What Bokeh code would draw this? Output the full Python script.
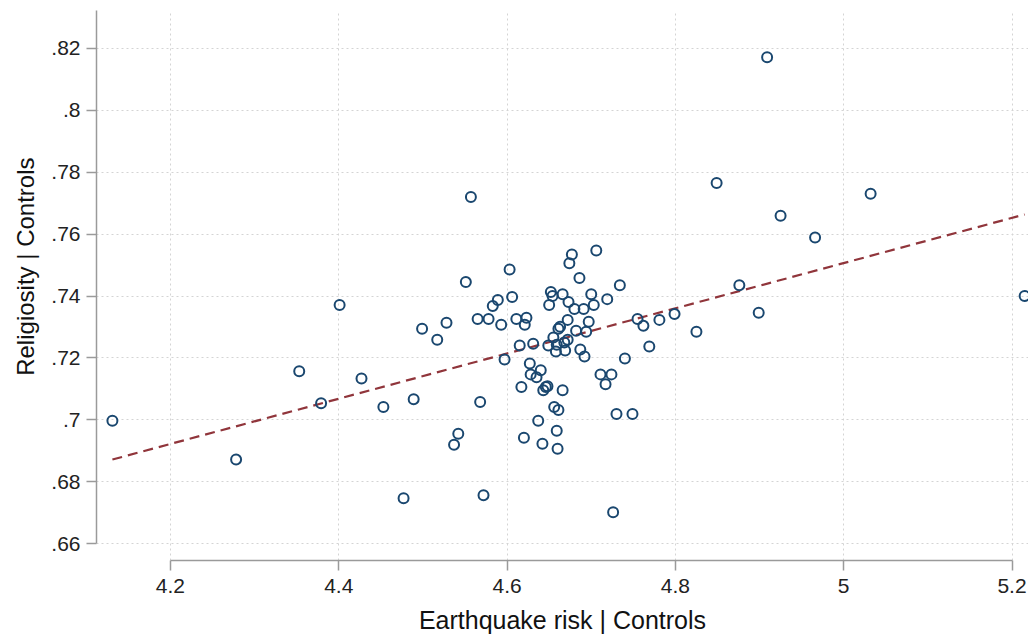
from bokeh.plotting import figure
from bokeh.models import Range1d, FixedTicker, CustomJSTickFormatter, ColumnDataSource, Title
from bokeh.embed import file_html
from bokeh.resources import INLINE

# ---- data ----
earthquake_risk = [
    4.131, 4.278, 4.353, 4.379, 4.401, 4.427, 4.453, 4.477, 4.489, 4.499,
    4.517, 4.528, 4.537, 4.542, 4.551, 4.557, 4.565, 4.568, 4.572, 4.578,
    4.583, 4.589, 4.593, 4.597, 4.603, 4.606, 4.611, 4.615, 4.617, 4.620,
    4.621, 4.623, 4.627, 4.628, 4.631, 4.635, 4.637, 4.640, 4.642, 4.643,
    4.646, 4.648, 4.649, 4.650, 4.652, 4.654, 4.655, 4.656, 4.658, 4.659,
    4.659, 4.660, 4.661, 4.661, 4.663, 4.666, 4.666, 4.668, 4.669, 4.672,
    4.672, 4.673, 4.674, 4.677, 4.680, 4.682, 4.686, 4.687, 4.691, 4.692,
    4.694, 4.697, 4.700, 4.703, 4.706, 4.711, 4.717, 4.719, 4.724, 4.726,
    4.730, 4.734, 4.740, 4.749, 4.755, 4.762, 4.769, 4.781, 4.799, 4.825,
    4.849, 4.876, 4.899, 4.909, 4.925, 4.966, 5.032, 5.215,
]
religiosity = [
    0.6997, 0.6872, 0.7157, 0.7054, 0.7371, 0.7134, 0.7042, 0.6747, 0.7067, 0.7294,
    0.7259, 0.7314, 0.6920, 0.6955, 0.7445, 0.7720, 0.7326, 0.7058, 0.6757, 0.7326,
    0.7368, 0.7387, 0.7307, 0.7195, 0.7486, 0.7397, 0.7326, 0.7240, 0.7106, 0.6942,
    0.7307, 0.7330, 0.7182, 0.7147, 0.7246, 0.7138, 0.6997, 0.7160, 0.6923, 0.7096,
    0.7106, 0.7109, 0.7240, 0.7371, 0.7413, 0.7400, 0.7266, 0.7042, 0.7221, 0.7243,
    0.6965, 0.6907, 0.7032, 0.7294, 0.7301, 0.7096, 0.7406, 0.7250, 0.7224, 0.7259,
    0.7323, 0.7381, 0.7506, 0.7534, 0.7358, 0.7288, 0.7458, 0.7227, 0.7358, 0.7205,
    0.7285, 0.7317, 0.7406, 0.7371, 0.7547, 0.7147, 0.7115, 0.7390, 0.7147, 0.6702,
    0.7019, 0.7435, 0.7198, 0.7019, 0.7326, 0.7304, 0.7237, 0.7323, 0.7342, 0.7285,
    0.7765, 0.7435, 0.7346, 0.8171, 0.7659, 0.7589, 0.7730, 0.7400,
]
fit_intercept = 0.38564
fit_slope = 0.0730

x_ticks = [4.2, 4.4, 4.6, 4.8, 5.0, 5.2]
y_ticks = [0.66, 0.68, 0.70, 0.72, 0.74, 0.76, 0.78, 0.80, 0.82]
x_title = "Earthquake risk | Controls"
y_title = "Religiosity | Controls"

# ---- figure ----
FONT = "Liberation Sans"
p = figure(
    width=1028, height=636,
    x_range=Range1d(4.1121, 5.2196), y_range=Range1d(0.6546, 0.8322),
    output_backend="svg", toolbar_location=None,
    min_border_left=96, min_border_right=0, min_border_top=10, min_border_bottom=71,
)
p.outline_line_color = None
p.background_fill_color = "white"
p.border_fill_color = "white"

# axes
for ax in (p.xaxis[0], p.yaxis[0]):
    ax.axis_line_color = "#9a9a9a"
    ax.axis_line_width = 1.5
    ax.major_tick_line_color = "#9a9a9a"
    ax.major_tick_line_width = 1.5
    ax.major_tick_out = 10
    ax.major_tick_in = 0
    ax.minor_tick_line_color = None
    ax.major_label_text_font = FONT
    ax.major_label_text_font_size = "21px"
    ax.major_label_text_color = "#222222"
    ax.axis_label_text_font = FONT
    ax.axis_label_text_font_style = "normal"
    ax.axis_label_text_color = "#111111"

p.xaxis.axis_label_text_font_size = "25px"
p.xaxis.ticker = FixedTicker(ticks=x_ticks)
p.yaxis.ticker = FixedTicker(ticks=y_ticks)
p.xaxis.bounds = (x_ticks[0], x_ticks[-1])
p.yaxis.bounds = (y_ticks[0], 0.8322)
p.xaxis.formatter = CustomJSTickFormatter(code="return String(Number(tick.toFixed(1)));")
p.yaxis.formatter = CustomJSTickFormatter(
    code="return String(Number(tick.toFixed(2))).replace(/^0\\./, '.');")
p.xaxis.major_label_standoff = 8
p.yaxis.major_label_standoff = 6
p.xaxis.axis_label = x_title
p.xaxis.axis_label_standoff = 10

# y title as a left-side title, placed like the reference
p.add_layout(Title(text=y_title, align="right", offset=147, text_font=FONT,
                   text_font_size="24px", text_font_style="normal",
                   text_color="#111111", standoff=19), "left")

# grid
p.xgrid.ticker = FixedTicker(ticks=x_ticks)
p.ygrid.ticker = FixedTicker(ticks=y_ticks)
for g in (p.xgrid[0], p.ygrid[0]):
    g.grid_line_color = "#d4d4d4"
    g.grid_line_dash = "2 3"
    g.grid_line_width = 1

# fitted line (from data min to data max)
x0, x1 = min(earthquake_risk), max(earthquake_risk)
fit = ColumnDataSource(dict(x=[x0, x1], y=[fit_intercept + fit_slope * x0, fit_intercept + fit_slope * x1]))
p.line("x", "y", source=fit, line_color="#90353b", line_width=2.2, line_dash="10 6")

# scatter
src = ColumnDataSource(dict(x=earthquake_risk, y=religiosity))
p.scatter("x", "y", source=src, marker="circle", size=10, fill_color=None,
          line_color="#1a476f", line_width=2)

open("out.html", "w").write(file_html(p, INLINE))
